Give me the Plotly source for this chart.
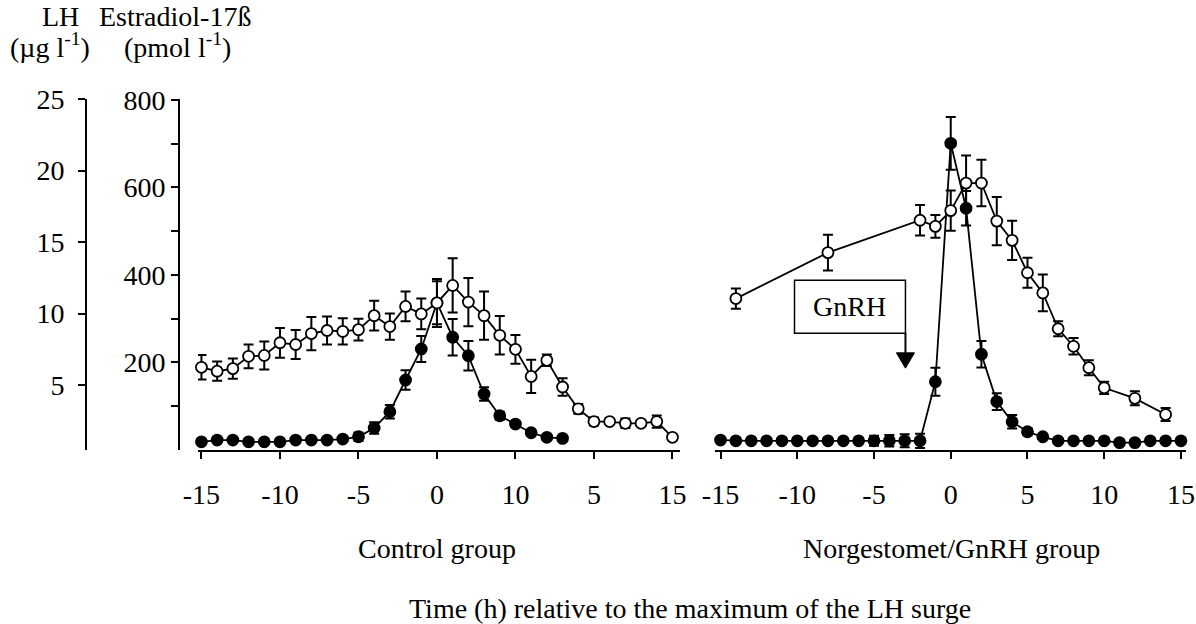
import plotly.graph_objects as go

W, H = 1196, 624

# ---------------- data ----------------
# Control group
ctrl_t_e2 = list(range(-15, 16))
ctrl_e2 = [189, 180, 186, 214, 216, 245, 241, 266, 273, 271, 275, 307, 282, 328, 311, 336,
           376, 338, 307, 262, 230, 168, 205, 144, 94, 65, 65, 61, 61, 65, 29]
ctrl_e2_err = [28, 22, 23, 27, 32, 34, 33, 38, 32, 30, 25, 34, 30, 34, 35, 55,
               62, 55, 55, 44, 33, 38, 13, 20, 11, 9, 5, 11, 5, 14, 5]

ctrl_t_lh = list(range(-15, 9))
ctrl_lh = [1.03, 1.15, 1.15, 1.03, 1.03, 1.03, 1.15, 1.15, 1.15, 1.22, 1.38, 2.0, 3.13, 5.35, 7.52, 10.75,
           8.34, 7.05, 4.37, 2.85, 2.27, 1.66, 1.34, 1.27]
ctrl_lh_err = [0.1, 0.1, 0.1, 0.1, 0.1, 0.1, 0.1, 0.1, 0.1, 0.15, 0.3, 0.4, 0.47, 0.68, 0.91, 1.5,
               1.28, 1.03, 0.47, 0.28, 0.2, 0.15, 0.1, 0.1]

# Norgestomet/GnRH group
nor_t_e2 = [-14, -8, -2, -1, 0, 1, 2, 3, 4, 5, 6, 7, 8, 9, 10, 12, 14]
nor_e2 = [346, 451, 525, 511, 547, 610, 610, 523, 479, 405, 359, 277, 237, 188, 142, 118, 81]
nor_e2_err = [23, 41, 35, 26, 46, 63, 53, 55, 45, 34, 42, 17, 19, 17, 14, 16, 15]

nor_t_lh = list(range(-15, 16))
nor_lh = [1.15, 1.1, 1.1, 1.1, 1.1, 1.1, 1.1, 1.1, 1.1, 1.1, 1.1, 1.1, 1.1, 1.1, 5.23, 21.9,
          17.36, 7.15, 3.84, 2.43, 1.73, 1.38, 1.1, 1.1, 1.1, 1.1, 0.97, 0.97, 1.1, 1.1, 1.1]
nor_lh_err = [0.1, 0.1, 0.1, 0.1, 0.1, 0.1, 0.1, 0.1, 0.1, 0.1, 0.35, 0.4, 0.45, 0.5, 0.98, 1.85,
              1.21, 0.93, 0.58, 0.47, 0.25, 0.1, 0.1, 0.1, 0.1, 0.1, 0.1, 0.1, 0.1, 0.1, 0.1]

x_tickvals = [-15, -10, -5, 0, 5, 10, 15]
ctrl_ticktext = ["-15", "-10", "-5", "0", "10", "5", "15"]
nor_ticktext = ["-15", "-10", "-5", "0", "5", "10", "15"]
lh_ticks = [5, 10, 15, 20, 25]
e2_major = [200, 400, 600, 800]
e2_minor = [100, 300, 500, 700]

gnrh_time = -2.95

# ---------------- figure ----------------
FONT = "Liberation Serif"
FS = 28


def px_x(p):
    return p / W


def px_y(p):
    return 1 - p / H


ydom = [px_y(450), px_y(99)]

fig = go.Figure()


def add_series(t, v, err, xa, ya, filled):
    fig.add_trace(go.Scatter(
        x=t, y=v, xaxis=xa, yaxis=ya, mode="lines+markers",
        line=dict(color="black", width=1.8),
        marker=dict(size=11, color="black" if filled else "white",
                    line=dict(color="black", width=1.8), symbol="circle"),
        error_y=dict(type="data", array=err, visible=True, color="black",
                     thickness=2, width=5),
        showlegend=False, cliponaxis=False,
    ))


# LH (filled) on y, estradiol (open) on y2 (drawn on top)
add_series(ctrl_t_lh, ctrl_lh, ctrl_lh_err, "x", "y", True)
add_series(nor_t_lh, nor_lh, nor_lh_err, "x2", "y", True)
add_series(ctrl_t_e2, ctrl_e2, ctrl_e2_err, "x", "y2", False)
add_series(nor_t_e2, nor_e2, nor_e2_err, "x2", "y2", False)

axis_common = dict(showline=True, linecolor="black", linewidth=2, ticks="outside",
                   ticklen=7, tickwidth=2, tickcolor="black", showgrid=False,
                   zeroline=False, automargin=False,
                   tickfont=dict(family=FONT, size=FS, color="black"))

fig.update_layout(
    template="none",
    width=W, height=H,
    margin=dict(l=0, r=0, t=0, b=0, pad=0),
    paper_bgcolor="white", plot_bgcolor="white",
    font=dict(family=FONT, size=FS, color="black"),
    xaxis=dict(domain=[px_x(198), px_x(680)], range=[-15.22, 15.48], anchor="y",
               tickmode="array", tickvals=x_tickvals, ticktext=ctrl_ticktext,
               ticklabelstandoff=11, **axis_common),
    xaxis2=dict(domain=[px_x(715), px_x(1186)], range=[-15.36, 15.33], anchor="y",
                tickmode="array", tickvals=x_tickvals, ticktext=nor_ticktext,
                ticklabelstandoff=11, **axis_common),
    yaxis=dict(domain=ydom, range=[0.455, 25.0], anchor="free", position=px_x(86),
               tickmode="array", tickvals=lh_ticks, ticktext=[str(v) for v in lh_ticks],
               ticklabelstandoff=8, **axis_common),
    yaxis2=dict(domain=ydom, range=[0, 802], anchor="free", position=px_x(179),
                overlaying="y", side="left",
                tickmode="array", tickvals=e2_major, ticktext=[str(v) for v in e2_major],
                minor=dict(tickmode="array", tickvals=e2_minor, ticks="outside",
                           ticklen=7, tickwidth=2, tickcolor="black", showgrid=False),
                ticklabelstandoff=0, **axis_common),
)

# GnRH box and arrow (data coords of right panel / estradiol axis)
box_x0, box_x1 = -10.18, gnrh_time
box_y0, box_y1 = 267, 388
stem_end = 222
tip_y = 187
half_w = 0.59
fig.add_shape(type="rect", xref="x2", yref="y2", x0=box_x0, x1=box_x1, y0=box_y0, y1=box_y1,
              line=dict(color="black", width=1.5), fillcolor="white", layer="above")
fig.add_shape(type="line", xref="x2", yref="y2", x0=gnrh_time, x1=gnrh_time, y0=box_y0, y1=stem_end,
              line=dict(color="black", width=2), layer="above")
fig.add_shape(type="path", xref="x2", yref="y2",
              path=f"M {gnrh_time - half_w},{stem_end} L {gnrh_time + half_w},{stem_end} L {gnrh_time},{tip_y} Z",
              fillcolor="black", line=dict(color="black", width=1), layer="above")
fig.add_annotation(x=(box_x0 + box_x1) / 2, y=(box_y0 + box_y1) / 2, xref="x2", yref="y2",
                   text="GnRH", showarrow=False, font=dict(family=FONT, size=FS, color="black"))

texts = [
    ("LH", 60, 16),
    ("Estradiol-17ß", 175, 16),
    ("(µg l<sup>-1</sup>)", 50, 46),
    ("(pmol l<sup>-1</sup>)", 177, 46),
    ("Control group", 437, 548),
    ("Norgestomet/GnRH group", 951, 548),
    ("Time (h) relative to the maximum of the LH surge", 690, 608),
]
for txt, xp, yp in texts:
    fig.add_annotation(x=px_x(xp), y=px_y(yp), xref="paper", yref="paper", text=txt,
                       showarrow=False, xanchor="center", yanchor="middle",
                       font=dict(family=FONT, size=FS, color="black"))

fig.write_html("out.html",
               config={"displayModeBar": False},
               post_script="document.body.style.margin='0';document.body.style.padding='0';")
